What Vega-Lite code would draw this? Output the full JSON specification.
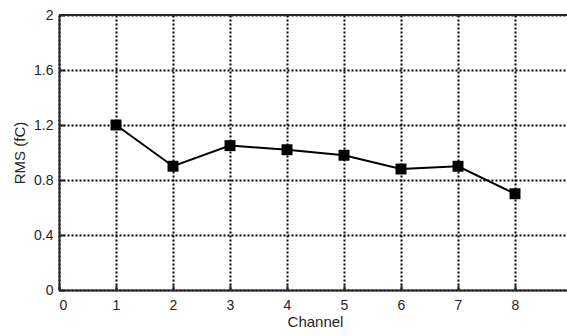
{
  "$schema": "https://vega.github.io/schema/vega-lite/v6.json",
  "width": 508,
  "height": 275,
  "autosize": "none",
  "padding": {"left": 59, "top": 15, "right": 0, "bottom": 46},
  "background": "white",
  "config": {
    "view": {"stroke": null},
    "font": "Liberation Sans",
    "axis": {
      "grid": true,
      "gridColor": "black",
      "gridDash": [2, 2],
      "gridWidth": 2,
      "gridOpacity": 1,
      "domainColor": "#262626",
      "domainWidth": 2,
      "tickColor": "#262626",
      "tickWidth": 2,
      "tickSize": -5,
      "labelFontSize": 14,
      "labelColor": "#262626",
      "labelFont": "Liberation Sans",
      "titleFont": "Liberation Sans",
      "titleFontSize": 15,
      "titleFontWeight": "normal",
      "titleColor": "#262626"
    }
  },
  "data": {
    "values": [
      {"channel": 1, "rms": 1.2},
      {"channel": 2, "rms": 0.9},
      {"channel": 3, "rms": 1.05},
      {"channel": 4, "rms": 1.02},
      {"channel": 5, "rms": 0.98},
      {"channel": 6, "rms": 0.88},
      {"channel": 7, "rms": 0.9},
      {"channel": 8, "rms": 0.7}
    ]
  },
  "encoding": {
    "x": {
      "field": "channel",
      "type": "quantitative",
      "scale": {"domain": [0, 8.912], "nice": false, "zero": false},
      "axis": {
        "title": "Channel",
        "values": [0, 1, 2, 3, 4, 5, 6, 7, 8],
        "format": "d",
        "labelPadding": 13,
        "titlePadding": 2,
        "titleX": 256
      }
    },
    "y": {
      "field": "rms",
      "type": "quantitative",
      "scale": {"domain": [0, 2], "nice": false},
      "axis": {
        "title": "RMS (fC)",
        "values": [0, 0.4, 0.8, 1.2, 1.6, 2],
        "format": "~g",
        "labelPadding": 11,
        "titlePadding": 6
      }
    }
  },
  "layer": [
    {
      "mark": {"type": "rule", "color": "#262626", "strokeWidth": 2},
      "encoding": {
        "x": null,
        "y": {"datum": 2, "type": "quantitative"}
      }
    },
    {
      "mark": {"type": "line", "color": "black", "strokeWidth": 2}
    },
    {
      "mark": {"type": "point", "shape": "square", "filled": true, "color": "black", "size": 120, "opacity": 1}
    }
  ]
}
